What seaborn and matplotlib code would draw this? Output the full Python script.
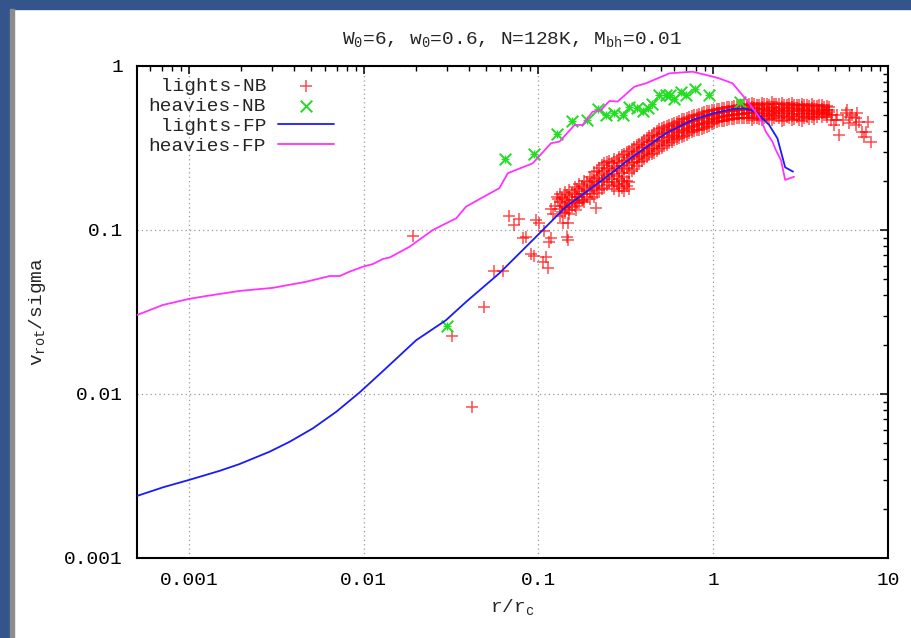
import numpy as np
import pandas as pd
import matplotlib
matplotlib.use("Agg")
import matplotlib.pyplot as plt
import matplotlib.ticker as ticker
from matplotlib.patches import Rectangle
import seaborn as sns

# ---- data ----
lights_fp_r = [0.000505, 0.000713, 0.001, 0.0015, 0.00195, 0.0029, 0.00378, 0.00513,
               0.00698, 0.00946, 0.0129, 0.02, 0.0296, 0.0386, 0.0598, 0.097,
               0.144, 0.23, 0.346, 0.537, 0.762, 1.0, 1.29, 1.50, 1.75, 2.09, 2.33,
               2.58, 2.86]
lights_fp_v = [0.00239, 0.0027, 0.00299, 0.0034, 0.00374, 0.00445, 0.00512, 0.00618,
               0.0078, 0.0102, 0.0138, 0.0213, 0.0282, 0.0365, 0.0545, 0.091,
               0.139, 0.2, 0.28, 0.389, 0.469, 0.514, 0.547, 0.552, 0.526, 0.437, 0.362,
               0.241, 0.227]

heavies_fp_r = [0.000505, 0.00071, 0.001, 0.00126, 0.00195, 0.00303, 0.00471, 0.0064,
                0.0073, 0.0083, 0.0099, 0.0113, 0.0129, 0.0141, 0.0183, 0.0249, 0.0339,
                0.0386, 0.0548, 0.0598, 0.0668, 0.0927, 0.118, 0.132, 0.161, 0.179,
                0.204, 0.228, 0.255, 0.284, 0.354, 0.412, 0.561, 0.762, 1.0, 1.08,
                1.29, 1.55, 1.83, 1.91, 2.0, 2.18, 2.28, 2.44, 2.58, 2.90]
heavies_fp_v = [0.0303, 0.0349, 0.038, 0.0396, 0.0425, 0.0444, 0.0484, 0.0524,
                0.0524, 0.0557, 0.0597, 0.062, 0.0666, 0.068, 0.079, 0.1, 0.118,
                0.139, 0.171, 0.18, 0.222, 0.255, 0.338, 0.346, 0.437, 0.437,
                0.526, 0.539, 0.612, 0.607, 0.748, 0.784, 0.902, 0.923, 0.86, 0.841,
                0.784, 0.621, 0.49, 0.447, 0.398, 0.346, 0.308, 0.267, 0.202, 0.211]

heavies_nb_r = [0.0301, 0.0643, 0.0948, 0.128, 0.156, 0.189, 0.22, 0.244, 0.272, 0.303,
                0.331, 0.365, 0.394, 0.422, 0.449, 0.491, 0.537, 0.565, 0.598, 0.653,
                0.703, 0.788, 0.948, 1.426]
heavies_nb_v = [0.0261, 0.272, 0.29, 0.385, 0.464, 0.469, 0.545, 0.502, 0.514, 0.502,
                0.566, 0.558, 0.535, 0.552, 0.586, 0.661, 0.661, 0.661, 0.63, 0.692,
                0.666, 0.724, 0.661, 0.607]

# sparse lights-NB points (outside the dense cloud)
lights_nb_r = [0.0191, 0.0319, 0.0418, 0.0491, 0.0555, 0.0625, 0.0683, 0.0729, 0.0771,
               0.0813, 0.0845, 0.0908, 0.094, 0.097, 0.101, 0.106, 0.1107, 0.113,
               0.1155, 0.118, 0.121, 0.129, 0.138, 0.147, 0.149, 0.145, 0.147, 0.164,
               0.179, 0.214, 0.118, 0.125, 0.128, 0.108,
               4.4, 4.5, 4.6, 4.7, 4.81, 4.91, 5.02, 5.1, 5.25, 5.5, 5.73, 5.86, 6.0,
               6.1, 6.25, 6.53, 6.53, 6.68, 6.83, 7.13, 7.29, 7.45, 7.71, 7.96]
lights_nb_v = [0.0923, 0.0226, 0.00838, 0.0338, 0.0562, 0.0562, 0.1216, 0.108, 0.1167,
               0.089, 0.091, 0.0714, 0.0694, 0.115, 0.11, 0.0641, 0.0682, 0.0584,
               0.085, 0.089, 0.126, 0.154, 0.11, 0.11, 0.126, 0.091, 0.087, 0.132,
               0.152, 0.136, 0.135, 0.14, 0.16, 0.098,
               0.52, 0.49, 0.539, 0.47, 0.503, 0.437, 0.469, 0.5, 0.38, 0.47, 0.514,
               0.539, 0.45, 0.49, 0.503, 0.48, 0.437, 0.514, 0.457, 0.398, 0.371,
               0.398, 0.457, 0.345]

# dense lights-NB cloud: columns of radii, several velocities per column
band_r = [0.132, 0.141, 0.150, 0.161, 0.171, 0.183, 0.196, 0.209, 0.223, 0.238, 0.255,
          0.272, 0.290, 0.31, 0.331, 0.354, 0.378, 0.403, 0.431, 0.460, 0.491, 0.524,
          0.561, 0.599, 0.64, 0.683, 0.73, 0.78, 0.832, 0.889, 0.949, 1.013, 1.082,
          1.155, 1.234, 1.318, 1.408, 1.503, 1.606, 1.715, 1.832, 1.957, 2.09, 2.23,
          2.38, 2.55, 2.72, 2.90, 3.10, 3.31, 3.54, 3.78, 4.03, 4.31, 4.60]
band_v = [
    [0.165, 0.148, 0.135, 0.122], [0.17, 0.152, 0.138, 0.127],
    [0.175, 0.158, 0.145, 0.133], [0.183, 0.165, 0.152, 0.14],
    [0.19, 0.172, 0.158, 0.146], [0.2, 0.18, 0.165, 0.148],
    [0.21, 0.19, 0.172, 0.155], [0.225, 0.2, 0.18, 0.16],
    [0.24, 0.215, 0.195, 0.175], [0.255, 0.228, 0.205, 0.18],
    [0.265, 0.24, 0.215, 0.195], [0.272, 0.245, 0.22, 0.195, 0.178],
    [0.28, 0.255, 0.23, 0.205, 0.185, 0.172], [0.29, 0.262, 0.235, 0.21, 0.19, 0.172],
    [0.305, 0.275, 0.248, 0.222, 0.195, 0.178], [0.32, 0.29, 0.26, 0.235],
    [0.335, 0.305, 0.28, 0.258], [0.352, 0.322, 0.295, 0.27],
    [0.372, 0.342, 0.31, 0.285], [0.388, 0.355, 0.325, 0.295],
    [0.415, 0.38, 0.345, 0.31], [0.425, 0.39, 0.355, 0.325],
    [0.435, 0.405, 0.37, 0.34], [0.45, 0.415, 0.382, 0.352],
    [0.465, 0.43, 0.395, 0.365], [0.478, 0.44, 0.405, 0.375],
    [0.488, 0.455, 0.42, 0.39], [0.5, 0.465, 0.432, 0.402],
    [0.512, 0.475, 0.44, 0.41], [0.525, 0.488, 0.452, 0.418],
    [0.535, 0.5, 0.465, 0.43], [0.542, 0.51, 0.478, 0.448],
    [0.548, 0.52, 0.49, 0.46], [0.558, 0.525, 0.495, 0.465],
    [0.562, 0.53, 0.5, 0.472], [0.568, 0.535, 0.505, 0.478],
    [0.575, 0.54, 0.51, 0.482], [0.58, 0.545, 0.512, 0.482],
    [0.585, 0.55, 0.515, 0.482], [0.585, 0.552, 0.518, 0.485],
    [0.578, 0.545, 0.51, 0.478], [0.588, 0.55, 0.515, 0.48],
    [0.582, 0.548, 0.512, 0.475], [0.59, 0.555, 0.52, 0.485],
    [0.585, 0.55, 0.515, 0.48], [0.578, 0.545, 0.51, 0.47],
    [0.585, 0.552, 0.518, 0.482], [0.58, 0.548, 0.512, 0.478],
    [0.575, 0.545, 0.51, 0.47], [0.58, 0.55, 0.515, 0.482],
    [0.572, 0.54, 0.508, 0.478], [0.568, 0.535, 0.505, 0.475],
    [0.575, 0.54, 0.51], [0.565, 0.532, 0.5], [0.56, 0.525],
]
# in-between columns of the same cloud
half_r = [0.136, 0.145, 0.155, 0.166, 0.177, 0.189, 0.202, 0.216, 0.230, 0.246, 0.263,
          0.281, 0.300, 0.320, 0.342, 0.366, 0.390, 0.417, 0.445, 0.475, 0.507, 0.542,
          0.580, 0.619, 0.661, 0.706, 0.755, 0.805, 0.86, 0.918, 0.98, 1.047, 1.118,
          1.194, 1.275, 1.362, 1.455, 1.554, 1.66, 1.773, 1.893, 2.02, 2.16, 2.30,
          2.46, 2.63, 2.81, 3.0, 3.2, 3.42, 3.66, 3.9, 4.17, 4.45]
half_v = [
    [0.157, 0.141, 0.128], [0.163, 0.148, 0.136], [0.168, 0.152, 0.139],
    [0.178, 0.16, 0.146], [0.185, 0.166, 0.15], [0.195, 0.176, 0.158],
    [0.205, 0.185, 0.165], [0.23, 0.207, 0.185, 0.168], [0.248, 0.222, 0.2, 0.178],
    [0.26, 0.235, 0.21, 0.188], [0.255, 0.228, 0.205, 0.185], [0.265, 0.24, 0.212, 0.19],
    [0.285, 0.245, 0.222, 0.198, 0.18], [0.298, 0.268, 0.24, 0.2, 0.185],
    [0.312, 0.282, 0.255, 0.228], [0.328, 0.298, 0.27, 0.245],
    [0.345, 0.315, 0.288, 0.262], [0.362, 0.332, 0.302, 0.278],
    [0.38, 0.35, 0.318, 0.29], [0.4, 0.368, 0.335, 0.302],
    [0.42, 0.385, 0.35, 0.318], [0.43, 0.398, 0.362, 0.332],
    [0.442, 0.41, 0.376, 0.346], [0.458, 0.422, 0.388, 0.358],
    [0.472, 0.435, 0.4, 0.37], [0.483, 0.448, 0.412, 0.382],
    [0.494, 0.46, 0.426, 0.396], [0.506, 0.47, 0.436, 0.406],
    [0.518, 0.482, 0.446, 0.414], [0.53, 0.494, 0.458, 0.424],
    [0.538, 0.505, 0.472, 0.44], [0.545, 0.515, 0.484, 0.454],
    [0.553, 0.522, 0.492, 0.462], [0.56, 0.528, 0.498, 0.468],
    [0.565, 0.532, 0.502, 0.475], [0.572, 0.538, 0.508, 0.48],
    [0.578, 0.542, 0.51, 0.482], [0.582, 0.548, 0.514, 0.482],
    [0.594, 0.562, 0.53, 0.498, 0.47], [0.582, 0.548, 0.514, 0.48],
    [0.596, 0.565, 0.532, 0.498, 0.468], [0.585, 0.53, 0.495],
    [0.6, 0.565, 0.535, 0.5, 0.47], [0.588, 0.532, 0.498],
    [0.595, 0.56, 0.528, 0.495, 0.465], [0.582, 0.53, 0.492],
    [0.592, 0.562, 0.53, 0.495, 0.466], [0.578, 0.528, 0.49],
    [0.59, 0.56, 0.528, 0.494, 0.462], [0.576, 0.53, 0.49],
    [0.585, 0.552, 0.52, 0.49], [0.572, 0.522, 0.488],
    [0.578, 0.548, 0.52, 0.49], [0.568, 0.54, 0.51],
]

# ---- build tables ----
cols_r = band_r + half_r
cols_v = band_v + half_v
cloud_r = [r for r, vs in zip(cols_r, cols_v) for _ in vs]
cloud_v = [v for vs in cols_v for v in vs]
lights_nb = pd.DataFrame({"r": lights_nb_r + cloud_r, "v": lights_nb_v + cloud_v})
heavies_nb = pd.DataFrame({"r": heavies_nb_r, "v": heavies_nb_v})
lights_fp = pd.DataFrame({"r": lights_fp_r, "v": lights_fp_v})
heavies_fp = pd.DataFrame({"r": heavies_fp_r, "v": heavies_fp_v})

sns.set_theme(style="white")
plt.rcParams["font.family"] = ["Liberation Mono", "DejaVu Sans Mono"]
plt.rcParams["mathtext.default"] = "regular"
plt.rcParams["font.size"] = 14

fig = plt.figure(figsize=(9.11, 6.38), dpi=100)
fig.patch.set_facecolor("white")
ax = fig.add_axes([137 / 911, 1 - 558 / 638, 751 / 911, 492 / 638])

# slide frame
fig.patches.append(Rectangle((0, 1 - 9 / 638), 1, 9 / 638, transform=fig.transFigure,
                             color="#34558b", zorder=0))
fig.patches.append(Rectangle((0, 0), 10 / 911, 1, transform=fig.transFigure,
                             color="#34558b", zorder=0))
fig.patches.append(Rectangle((10 / 911, 0), 4 / 911, 1 - 9 / 638, transform=fig.transFigure,
                             color="#8c8c8c", zorder=0))

ax.set(xscale="log", yscale="log")

sns.scatterplot(data=lights_nb, x="r", y="v", ax=ax, marker="+", s=75, color="#ff0000",
                alpha=0.7, linewidth=1.1, label=" lights-NB", zorder=3)
sns.scatterplot(data=heavies_nb, x="r", y="v", ax=ax, marker="x", s=70, color="#22dd22",
                linewidth=1.4, label="heavies-NB", zorder=4)
sns.scatterplot(data=heavies_nb, x="r", y="v", ax=ax, marker="+", s=35, color="#22dd22",
                linewidth=1.0, zorder=4)
sns.lineplot(data=lights_fp, x="r", y="v", ax=ax, sort=False, estimator=None,
             color="#1a1aff", lw=1.3, label=" lights-FP", zorder=5)
sns.lineplot(data=heavies_fp, x="r", y="v", ax=ax, sort=False, estimator=None,
             color="#ff33ff", lw=1.3, label="heavies-FP", zorder=5)

ax.set_xlim(0.000505, 10)
ax.set_ylim(0.001, 1)

fmt = ticker.FuncFormatter(lambda val, _: f"{val:g}")
ax.xaxis.set_major_locator(ticker.FixedLocator([0.001, 0.01, 0.1, 1, 10]))
ax.yaxis.set_major_locator(ticker.FixedLocator([0.001, 0.01, 0.1, 1]))
ax.xaxis.set_major_formatter(fmt)
ax.yaxis.set_major_formatter(fmt)
ax.xaxis.set_minor_locator(ticker.LogLocator(base=10, subs=np.arange(2, 10), numticks=20))
ax.yaxis.set_minor_locator(ticker.LogLocator(base=10, subs=np.arange(2, 10), numticks=20))
ax.xaxis.set_minor_formatter(ticker.NullFormatter())
ax.yaxis.set_minor_formatter(ticker.NullFormatter())

ax.tick_params(which="both", direction="in", top=True, right=True, colors="black",
               labelsize=14)
ax.tick_params(which="major", length=6, width=1.1, pad=10)
ax.tick_params(which="minor", length=3.5, width=1.0)
for sp in ax.spines.values():
    sp.set_linewidth(1.5)
    sp.set_color("black")

ax.grid(True, which="major", color="#999999", linestyle=(0, (1, 2.5)), linewidth=0.9)
ax.set_axisbelow(True)

ax.set_title("W$_0$=6, w$_0$=0.6, N=128K, M$_{bh}$=0.01", fontsize=14, pad=16)
ax.set_xlabel("r/r$_c$", fontsize=14, labelpad=6)
ax.set_ylabel("v$_{rot}$/sigma", fontsize=14, labelpad=12)

handles, labels = ax.get_legend_handles_labels()
ax.legend(handles, labels, loc="upper left", frameon=False, markerfirst=False,
          fontsize=14, handlelength=2.9, labelspacing=0.12, handletextpad=0.6,
          borderaxespad=0.3, borderpad=0.3)

fig.savefig("out.png", dpi=100, facecolor="white")
